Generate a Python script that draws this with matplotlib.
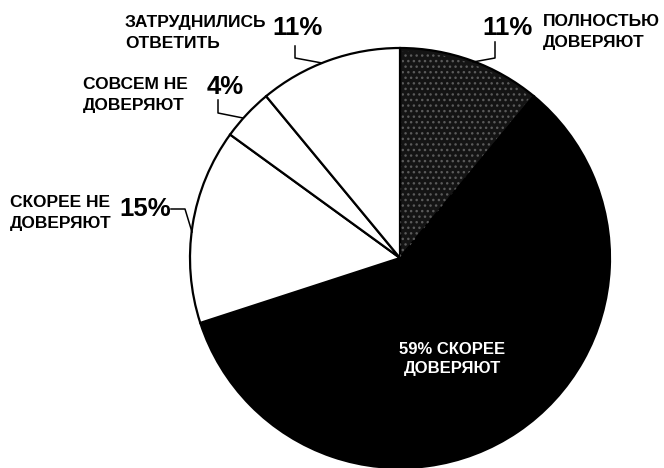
import matplotlib
matplotlib.use("Agg")
import matplotlib.pyplot as plt
from matplotlib.patches import Wedge

# survey shares, clockwise from the top
shares = [11, 59, 15, 4, 11]
answers = ["ПОЛНОСТЬЮ\nДОВЕРЯЮТ", "СКОРЕЕ\nДОВЕРЯЮТ", "СКОРЕЕ НЕ\nДОВЕРЯЮТ",
           "СОВСЕМ НЕ\nДОВЕРЯЮТ", "ЗАТРУДНИЛИСЬ\nОТВЕТИТЬ"]
pct_labels = ["%d%%" % s for s in shares]
fills = ["#141414", "black", "white", "white", "white"]

W, H = 664, 468
fig = plt.figure(figsize=(W / 100, H / 100), dpi=100)
ax = fig.add_axes([0, 0, 1, 1])

cx, cy, r = 400, 258, 210

# pie is drawn in a y-down frame, so angles go clockwise on screen
wedges, _ = ax.pie(shares, colors=fills, startangle=-90, counterclock=True,
                   center=(cx, cy), radius=r, frame=True,
                   wedgeprops=dict(edgecolor="black", linewidth=1.6))
ax.set_xlim(0, W)
ax.set_ylim(H, 0)
ax.axis("off")

# speckled texture on the first slice
w0 = wedges[0]
ax.add_patch(Wedge((cx, cy), r * 0.985, w0.theta1 + 0.6, w0.theta2 - 0.6,
                   facecolor="none", edgecolor="#5a5a5a", linewidth=0,
                   hatch="..."))

label_font = dict(family=["Liberation Sans", "DejaVu Sans"], weight="bold",
                  fontsize=12.5, color="black", linespacing=1.45)
pct_font = dict(family=["Liberation Sans", "DejaVu Sans"],
                weight="bold", fontsize=18.5, color="black")

# outside labels: (text pos, pct pos, leader line)
ax.text(543, 32, answers[0], ha="left", va="center", **label_font)
ax.text(508, 28, pct_labels[0], ha="center", va="center", **pct_font)
ax.plot([495, 495, 473], [42, 58, 62], color="black", lw=1.1)

ax.text(125, 33, answers[4], ha="left", va="center", **label_font)
ax.text(298, 28, pct_labels[4], ha="center", va="center", **pct_font)
ax.plot([295, 295, 322], [46, 58, 63], color="black", lw=1.1)

ax.text(83, 95, answers[3], ha="left", va="center", **label_font)
ax.text(225, 87, pct_labels[3], ha="center", va="center", **pct_font)
ax.plot([218, 218, 243], [100, 113, 118], color="black", lw=1.1)

ax.text(10, 213, answers[2], ha="left", va="center", **label_font)
ax.text(145, 209, pct_labels[2], ha="center", va="center", **pct_font)
ax.plot([171, 185, 192], [209, 209, 232], color="black", lw=1.1)

ax.text(452, 359, "%s %s" % (pct_labels[1], answers[1]), ha="center",
        va="center", family=["Liberation Sans", "DejaVu Sans"],
        weight="bold", fontsize=12, color="white", linespacing=1.4)

fig.savefig("out.png", dpi=100, facecolor="white")
